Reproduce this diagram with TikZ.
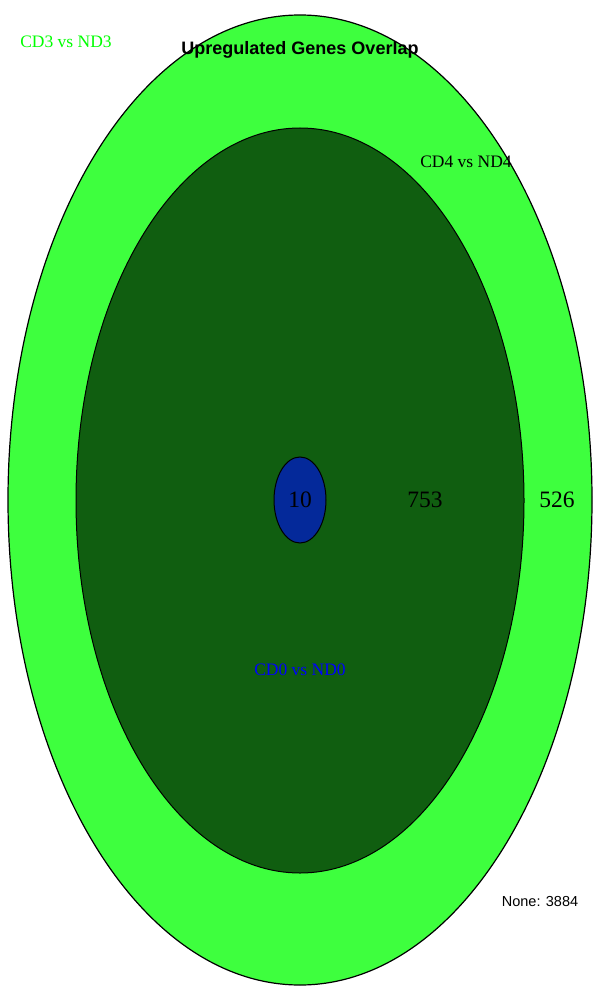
\documentclass[tikz,border=0pt]{standalone}
\usepackage{fontspec}
\setmainfont{Liberation Serif}
\setsansfont{Liberation Sans}
\usetikzlibrary{shapes.geometric}
\definecolor{lightgreen}{RGB}{62,255,62}
\definecolor{darkgreen}{RGB}{16,94,16}
\definecolor{setblue}{RGB}{4,41,154}
\definecolor{labelgreen}{RGB}{0,255,0}
\definecolor{labelblue}{RGB}{0,0,255}
\tikzset{
  setshape/.style={
    ellipse,
    draw=black,
    line width=1.2pt,
    inner sep=0pt
  },
  setlabel/.style={font=\fontsize{17.5}{19}\selectfont},
  countlabel/.style={font=\fontsize{23.5}{25}\selectfont},
  titlelabel/.style={font=\sffamily\bfseries\fontsize{18}{20}\selectfont},
  notelabel/.style={font=\sffamily\fontsize{14.5}{16}\selectfont}
}

\begin{document}
\begin{tikzpicture}[x=1pt, y=-1pt]
  \useasboundingbox (0,0) rectangle (600,1000);

  % nested sets, largest first
  \node[setshape, fill=lightgreen, minimum width=584pt, minimum height=970pt] (CDthree) at (300,500) {};
  \node[setshape, fill=darkgreen, line width=1pt, minimum width=448pt, minimum height=745pt] (CDfour) at (300,500.5) {};
  \node[setshape, fill=setblue, line width=1pt, minimum width=52pt, minimum height=86pt] (CDzero) at (300,500) {};

  \node[countlabel] (nzero) at (CDzero) {10};
  \node[countlabel] (nfour) at (425,500) {753};
  \node[countlabel] (nthree) at (557,500) {526};

  \node[setlabel, text=labelgreen] (lthree) at (66,42) {CD3 vs ND3};
  \node[setlabel] (lfour) at (466,162) {CD4 vs ND4};
  \node[setlabel, text=labelblue] (lzero) at (300,670) {CD0 vs ND0};

  \node[titlelabel] (title) at (300,50) {Upregulated Genes Overlap};
  \node[notelabel] (none) at (540,901) {None: 3884};
\end{tikzpicture}
\end{document}
